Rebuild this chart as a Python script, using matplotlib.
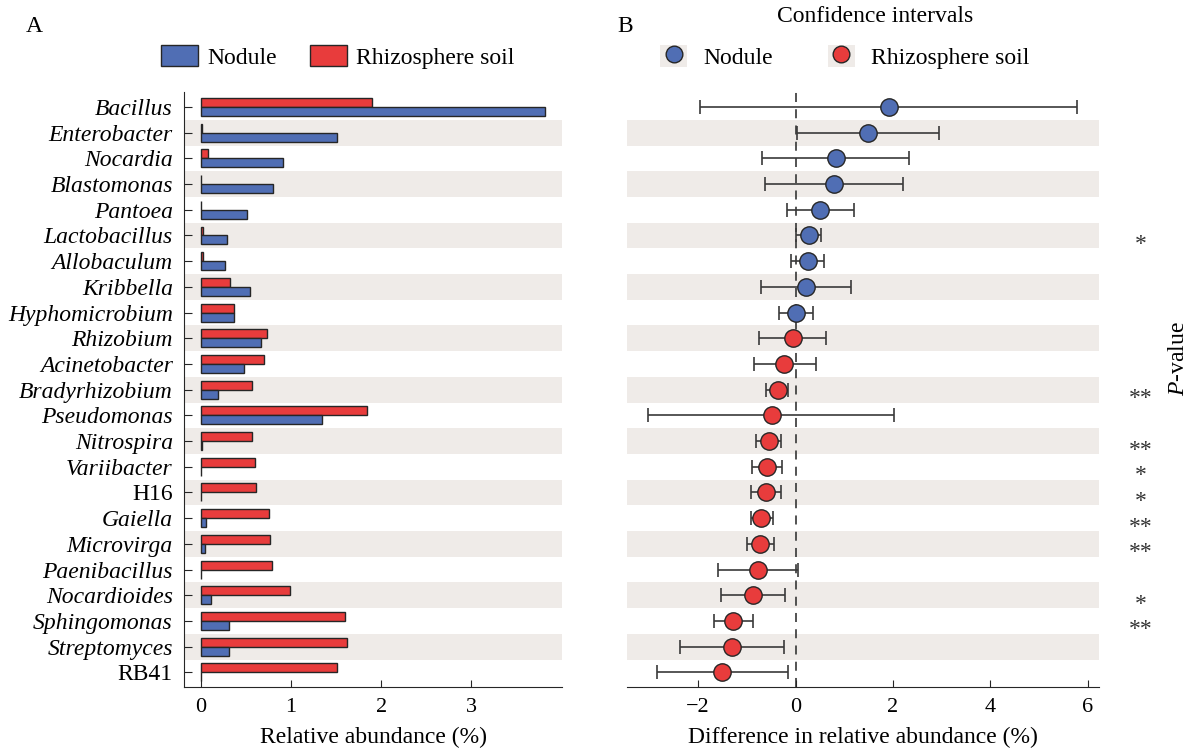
import matplotlib
matplotlib.use("Agg")
import matplotlib.pyplot as plt
from matplotlib.patches import Patch
from matplotlib.lines import Line2D
from matplotlib.legend_handler import HandlerTuple
from matplotlib.transforms import blended_transform_factory

plt.rcParams['font.family'] = ['Liberation Serif', 'DejaVu Serif']
plt.rcParams['axes.unicode_minus'] = True
plt.rcParams['mathtext.fontset'] = 'custom'
plt.rcParams['mathtext.rm'] = 'Liberation Serif'
plt.rcParams['mathtext.it'] = 'Liberation Serif:italic'

# Genera, top to bottom
genera = ["Bacillus", "Enterobacter", "Nocardia", "Blastomonas", "Pantoea",
          "Lactobacillus", "Allobaculum", "Kribbella", "Hyphomicrobium",
          "Rhizobium", "Acinetobacter", "Bradyrhizobium", "Pseudomonas",
          "Nitrospira", "Variibacter", "H16", "Gaiella", "Microvirga",
          "Paenibacillus", "Nocardioides", "Sphingomonas", "Streptomyces", "RB41"]
upright = {"H16", "RB41"}

# Relative abundance (%)
nodule = [3.82, 1.51, 0.91, 0.80, 0.51, 0.29, 0.27, 0.54, 0.37, 0.67, 0.48,
          0.19, 1.34, 0.01, 0.0, 0.0, 0.05, 0.04, 0.0, 0.11, 0.31, 0.31, 0.0]
soil = [1.90, 0.01, 0.08, 0.0, 0.0, 0.02, 0.02, 0.32, 0.36, 0.73, 0.70,
        0.56, 1.84, 0.57, 0.60, 0.61, 0.75, 0.76, 0.79, 0.99, 1.60, 1.62, 1.51]

# Difference in relative abundance (%) with 95% confidence interval
diff = [1.91, 1.49, 0.83, 0.79, 0.50, 0.27, 0.25, 0.22, 0.01, -0.06, -0.23,
        -0.37, -0.49, -0.55, -0.58, -0.60, -0.70, -0.72, -0.77, -0.88, -1.29, -1.31, -1.50]
ci_low = [-1.97, 0.03, -0.68, -0.62, -0.18, 0.01, -0.10, -0.70, -0.34, -0.75, -0.86,
          -0.60, -3.03, -0.81, -0.90, -0.92, -0.92, -1.00, -1.60, -1.54, -1.68, -2.38, -2.84]
ci_high = [5.78, 2.95, 2.33, 2.20, 1.19, 0.53, 0.58, 1.14, 0.36, 0.63, 0.42,
           -0.16, 2.03, -0.29, -0.27, -0.30, -0.47, -0.44, 0.05, -0.22, -0.88, -0.23, -0.15]

# Significance marks
pmarks = ["", "", "", "", "", "*", "", "", "", "", "", "**", "", "**", "*", "*",
          "**", "**", "", "*", "**", "", ""]

BLUE = "#506eb4"
RED = "#e83c3c"
BAND = "#efebe8"
EDGE = "#262626"
FS = 17

n = len(genera)
ypos = list(range(n))

fig = plt.figure(figsize=(11.95, 7.5), dpi=100)
axA = fig.add_axes([184 / 1195, 63 / 750, 378 / 1195, 595 / 750])
axB = fig.add_axes([627 / 1195, 63 / 750, 472 / 1195, 595 / 750])

ylim = (22.57, -0.584)

for ax in (axA, axB):
    for i in ypos:
        if i % 2 == 1:
            ax.axhspan(i - 0.5, i + 0.5, color=BAND, lw=0, zorder=0)
    ax.set_ylim(*ylim)
    ax.spines['top'].set_visible(False)
    ax.spines['right'].set_visible(False)
    ax.spines['bottom'].set_color(EDGE)
    ax.spines['left'].set_color(EDGE)

# Panel A: grouped horizontal bars
h = 0.35
axA.barh([y - h / 2 for y in ypos], soil, height=h, color=RED,
         edgecolor=EDGE, linewidth=1.0, zorder=2)
axA.barh([y + h / 2 for y in ypos], nodule, height=h, color=BLUE,
         edgecolor=EDGE, linewidth=1.0, zorder=2)
axA.set_xlim(-0.19, 4.01)
axA.set_xticks([0, 1, 2, 3])
axA.set_yticks(ypos)
axA.set_yticklabels(genera)
for lab in axA.get_yticklabels():
    if lab.get_text() not in upright:
        lab.set_fontstyle('italic')
axA.tick_params(axis='y', direction='in', length=6, labelsize=FS, pad=8, color=EDGE)
axA.tick_params(axis='x', direction='in', length=5, labelsize=16, pad=8, color=EDGE)
axA.set_xlabel("Relative abundance (%)", fontsize=FS, labelpad=7)

# Panel B: differences with confidence intervals
axB.axvline(0, color="#444444", lw=1.3, ls=(0, (5, 4)), zorder=1)
xerr = [[d - lo for d, lo in zip(diff, ci_low)], [hi - d for d, hi in zip(diff, ci_high)]]
axB.errorbar(diff, ypos, xerr=xerr, fmt='none', ecolor="#3a3a3a", elinewidth=1.2,
             capsize=5, capthick=1.2, zorder=2)
for d, y in zip(diff, ypos):
    axB.plot(d, y, 'o', ms=12.5, mfc=BLUE if d > 0 else RED, mec=EDGE, mew=1.0, zorder=3)
axB.set_xlim(-3.46, 6.23)
axB.set_xticks([-2, 0, 2, 4, 6])
axB.set_yticks([])
axB.spines['left'].set_visible(False)
axB.tick_params(axis='x', direction='in', length=5, labelsize=16, pad=8, color=EDGE)
axB.set_xlabel("Difference in relative abundance (%)", fontsize=FS, labelpad=7)

trans = blended_transform_factory(axB.transAxes, axB.transData)
for y, m in zip(ypos, pmarks):
    if m:
        axB.text(1.088, y + 0.35, m, transform=trans, ha='center', va='center',
                 fontsize=FS, color="#333333", clip_on=False)
fig.text(1178 / 1195, 1 - 359 / 750, r"$\mathit{P}$-value", rotation=90,
         ha='center', va='center', fontsize=FS)

# Legends
fig.legend(handles=[Patch(facecolor=BLUE, edgecolor=EDGE, lw=1.0, label="Nodule"),
                    Patch(facecolor=RED, edgecolor=EDGE, lw=1.0, label="Rhizosphere soil")],
           loc='center', bbox_to_anchor=(338 / 1195, 1 - 57 / 750), ncol=2, frameon=False,
           fontsize=FS, handlelength=1.55, handleheight=1.0, columnspacing=1.4,
           handletextpad=0.4)


def marker_handle(color):
    return (Patch(facecolor=BAND, edgecolor='none'),
            Line2D([], [], marker='o', ls='none', ms=12, mfc=color, mec=EDGE, mew=1.0))


fig.legend(handles=[marker_handle(BLUE), marker_handle(RED)],
           labels=["Nodule", "Rhizosphere soil"],
           handler_map={tuple: HandlerTuple(ndivide=1)},
           loc='center', bbox_to_anchor=(845 / 1195, 1 - 57 / 750), ncol=2, frameon=False,
           fontsize=FS, handlelength=1.15, handleheight=1.1, columnspacing=2.3,
           handletextpad=0.7)

fig.text(875 / 1195, 1 - 16 / 750, "Confidence intervals", ha='center', va='center', fontsize=FS)
fig.text(34 / 1195, 1 - 26 / 750, "A", ha='center', va='center', fontsize=FS)
fig.text(625 / 1195, 1 - 26 / 750, "B", ha='center', va='center', fontsize=FS)

fig.savefig("out.png", dpi=100)
